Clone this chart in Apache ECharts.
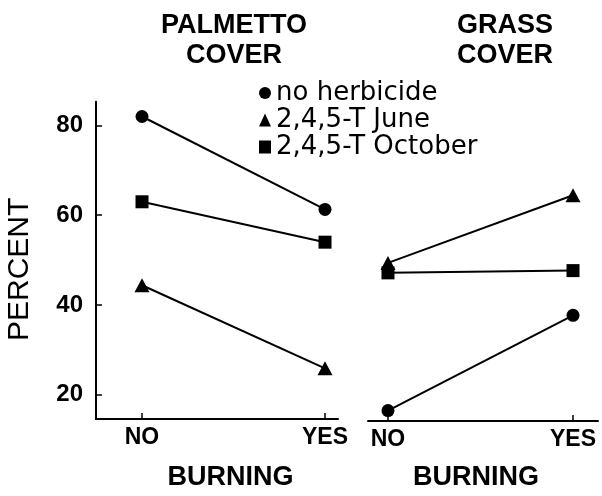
<!DOCTYPE html>
<html>
<head>
<meta charset="utf-8">
<script src="https://cdn.jsdelivr.net/npm/echarts@6.0.0/dist/echarts.min.js"></script>
<style>
  html, body { margin: 0; padding: 0; background: #fff; }
  #main { width: 602px; height: 496px; }
</style>
</head>
<body>
<div id="main"></div>
<script>
// data
var burning = ['NO', 'YES'];
var seriesNames = ['no herbicide', '2,4,5-T June', '2,4,5-T October'];
var palmNoHerb = [82, 61.3];
var palmJune = [44.4, 25.9];
var palmOct = [63, 54];
var grassNoHerb = [16.9, 38];
var grassJune = [49.6, 64.6];
var grassOct = [47.4, 47.9];
var yTicks = [20, 40, 60, 80];

function pts(vals) {
    let out = [];
    for (let i = 0; i < vals.length; i++) {
        out.push([i, vals[i]]);
    }
    return out;
}

var black = '#000';
var symbols = ['circle', 'triangle', 'rect'];
var symSizes = [13, [15, 14], 13];

function makeSeries(name, idx, vals, panel) {
    return {
        name: name,
        type: 'line',
        xAxisIndex: panel,
        yAxisIndex: panel,
        data: pts(vals),
        symbol: symbols[idx],
        symbolSize: symSizes[idx],
        itemStyle: { color: black },
        lineStyle: { color: black, width: 2 },
        emphasis: { disabled: true },
        z: 3
    };
}

function xAxisFor(panel, min, max, pad, gap) {
    return {
        type: 'value',
        gridIndex: panel,
        min: min,
        max: max,
        splitLine: { show: false },
        axisLine: { show: true, onZero: false, lineStyle: { color: black, width: 2 } },
        axisTick: { show: true, inside: true, length: 6, customValues: [0, 1], lineStyle: { color: black, width: 1.5 } },
        axisLabel: {
            customValues: [0, 1],
            formatter: function (v) { return burning[v]; },
            color: black,
            fontFamily: 'Liberation Sans',
            fontWeight: 'bold',
            fontSize: 23,
            margin: 7
        },
        name: 'BURNING',
        nameLocation: 'middle',
        nameGap: gap,
        nameTextStyle: {
            color: black,
            fontFamily: 'Liberation Sans',
            fontWeight: 'bold',
            fontSize: 27,
            padding: pad
        }
    };
}

var myChart = echarts.init(document.getElementById('main'));

var option = {
    animation: false,
    backgroundColor: '#fff',
    title: [
        {
            text: 'PALMETTO\nCOVER',
            left: 229,
            top: 6,
            textAlign: 'center',
            textStyle: { color: black, fontFamily: 'Liberation Sans', fontWeight: 'bold', fontSize: 27, lineHeight: 29.5 }
        },
        {
            text: 'GRASS\nCOVER',
            left: 500,
            top: 6,
            textAlign: 'center',
            textStyle: { color: black, fontFamily: 'Liberation Sans', fontWeight: 'bold', fontSize: 27, lineHeight: 29.5 }
        }
    ],
    legend: {
        orient: 'vertical',
        left: 254,
        top: 75,
        itemWidth: 12,
        itemHeight: 13,
        itemGap: 1,
        selectedMode: false,
        data: [
            { name: seriesNames[0], icon: 'circle' },
            { name: seriesNames[1], icon: 'triangle' },
            { name: seriesNames[2], icon: 'rect' }
        ],
        itemStyle: { color: black },
        textStyle: { color: black, fontFamily: 'DejaVu Sans', fontSize: 26, lineHeight: 26 }
    },
    grid: [
        { left: 96, top: 101.7, width: 242, bottom: 73 },
        { left: 368, top: 101.7, width: 230, bottom: 73 }
    ],
    xAxis: [
        xAxisFor(0, -0.2514, 1.071, [0, 0, 0, 27], 45),
        xAxisFor(1, -0.108, 1.135, [0, 14, 0, 0], 43)
    ],
    yAxis: [
        {
            type: 'value',
            gridIndex: 0,
            min: 14.6,
            max: 85.3,
            splitLine: { show: false },
            axisLine: { show: true, onZero: false, lineStyle: { color: black, width: 2 } },
            axisTick: { show: true, inside: true, length: 6, customValues: yTicks, lineStyle: { color: black, width: 1.5 } },
            axisLabel: {
                customValues: yTicks,
                color: black,
                fontFamily: 'Liberation Sans',
                fontWeight: 'bold',
                fontSize: 24,
                margin: 13
            },
            name: 'PERCENT',
            nameLocation: 'middle',
            nameGap: 61,
            nameTextStyle: {
                color: black,
                fontFamily: 'Liberation Sans',
                fontSize: 30,
                padding: [0, 18, 0, 0]
            }
        },
        {
            type: 'value',
            gridIndex: 1,
            min: 14.6,
            max: 85.3,
            show: false
        }
    ],
    series: [
        makeSeries(seriesNames[0], 0, palmNoHerb, 0),
        makeSeries(seriesNames[1], 1, palmJune, 0),
        makeSeries(seriesNames[2], 2, palmOct, 0),
        makeSeries(seriesNames[0], 0, grassNoHerb, 1),
        makeSeries(seriesNames[1], 1, grassJune, 1),
        makeSeries(seriesNames[2], 2, grassOct, 1)
    ]
};

myChart.setOption(option);
</script>
</body>
</html>
